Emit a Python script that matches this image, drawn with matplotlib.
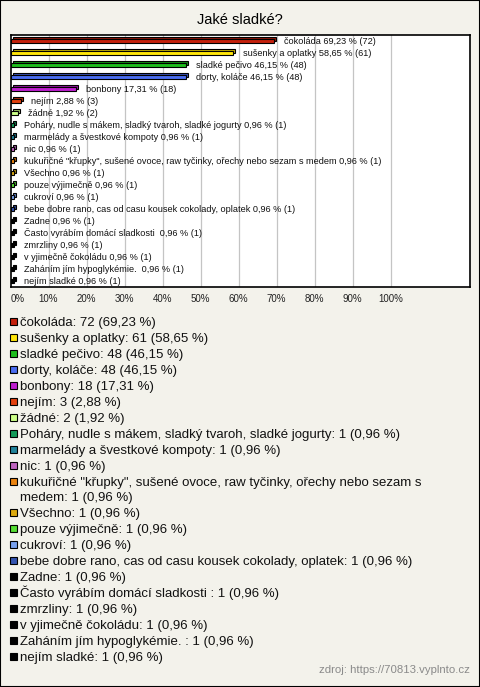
import textwrap
import matplotlib
matplotlib.use("Agg")
import matplotlib.pyplot as plt
import matplotlib.transforms as mtransforms
from matplotlib.patches import Rectangle

plt.rcParams['font.family'] = ['Liberation Sans', 'DejaVu Sans']

# Data
labels = [
    "čokoláda", "sušenky a oplatky", "sladké pečivo", "dorty, koláče", "bonbony",
    "nejím", "žádné", "Poháry, nudle s mákem, sladký tvaroh, sladké jogurty",
    "marmelády a švestkové kompoty", "nic",
    "kukuřičné \"křupky\", sušené ovoce, raw tyčinky, ořechy nebo sezam s medem",
    "Všechno", "pouze výjimečně", "cukroví",
    "bebe dobre rano, cas od casu kousek cokolady, oplatek", "Zadne",
    "Často vyrábím domácí sladkosti ", "zmrzliny", "v yjimečně čokoládu",
    "Zaháním jím hypoglykémie. ", "nejím sladké",
]
counts = [72, 61, 48, 48, 18, 3, 2, 1, 1, 1, 1, 1, 1, 1, 1, 1, 1, 1, 1, 1, 1]
percents = [69.23, 58.65, 46.15, 46.15, 17.31, 2.88, 1.92, 0.96, 0.96, 0.96, 0.96,
            0.96, 0.96, 0.96, 0.96, 0.96, 0.96, 0.96, 0.96, 0.96, 0.96]
colors = ["#C4200C", "#FFE60A", "#1EBE1E", "#4A6CF0", "#BE1ECF", "#E2400E",
          "#CCFF88", "#129A58", "#21839A", "#BE64BE", "#EA8410", "#DCAA10",
          "#55DD33", "#78A0EC", "#3454B0", "#000000", "#000000", "#000000",
          "#000000", "#000000", "#000000"]
x_ticks = [0, 10, 20, 30, 40, 50, 60, 70, 80, 90, 100]
tick_labels = [f"{t}%" for t in x_ticks]
source = "zdroj: https://70813.vyplnto.cz"

W, H = 480, 687
BG = "#F3F2EB"


def fy(px):
    return 1 - px / H


def fmt(p):
    return f"{p:.2f}".replace(".", ",")


def darker(c, f=0.75):
    r, g, b = matplotlib.colors.to_rgb(c)
    return (r * f, g * f, b * f)


fig = plt.figure(figsize=(W / 100, H / 100), dpi=100, facecolor=BG)
fig.patches.append(Rectangle((0, 0), 1, 1, transform=fig.transFigure,
                             fill=False, edgecolor="black", linewidth=1.5))

fig.text(0.5, fy(20), "Jaké sladké?", ha="center", va="center", fontsize=10.5)

# Bar chart area
ax_left, ax_right, ax_top, ax_bot = 10.5, 470, 35, 287
ax = fig.add_axes([ax_left / W, fy(ax_bot), (ax_right - ax_left) / W,
                   (ax_bot - ax_top) / H])
ax.set_facecolor("white")
ax.set_xlim(0, (ax_right - ax_left) / 3.8)
ax.set_ylim(len(labels) - 0.5, -0.5)
for s in ax.spines.values():
    s.set_linewidth(1.2)
    s.set_color("black")
for t in x_ticks[1:]:
    ax.axvline(t, color="#C4C4C4", linewidth=0.9, zorder=0)

ypos = list(range(len(labels)))
bh = 0.38
# 3D look: a shifted back face drawn behind the front face
back = mtransforms.offset_copy(ax.transData, fig=fig, x=2, y=2, units="dots")
ax.barh(ypos, percents, height=bh, color=[darker(c) for c in colors],
        edgecolor="black", linewidth=0.8, transform=back, zorder=2)
ax.barh(ypos, percents, height=bh, color=colors, edgecolor="black",
        linewidth=0.8, zorder=3)

for y, lab, p, c in zip(ypos, labels, percents, counts):
    ax.annotate(f"{lab} {fmt(p)} % ({c})", (p, y), xytext=(10, 0),
                textcoords="offset pixels", ha="left", va="center",
                fontsize=6.6, color="#111111", zorder=4)

ax.set_yticks([])
ax.set_xticks(x_ticks)
ax.set_xticklabels(tick_labels, fontsize=7, color="#222222")
ax.get_xticklabels()[0].set_horizontalalignment("left")
ax.tick_params(axis="x", length=0, pad=5)

# Legend
y = 321.7
line_gap = 14.5
for lab, c, p, col in zip(labels, counts, percents, colors):
    text = textwrap.fill(f"{lab}: {c} ({fmt(p)} %)", 67)
    fig.patches.append(Rectangle((10 / W, fy(y + 3.5)), 7 / W, 7 / H,
                                 transform=fig.transFigure, facecolor=col,
                                 edgecolor="black", linewidth=0.8))
    for i, line in enumerate(text.split("\n")):
        fig.text(20 / W, fy(y + 4.3 + i * line_gap), line, ha="left",
                 va="baseline", fontsize=9.5, color="#111111")
    y += 16 + line_gap * text.count("\n")

fig.text(470 / W, fy(670), source, ha="right", va="center", fontsize=8.2,
         color="#8A8A8A")

fig.savefig("out.png", dpi=100, facecolor=BG)
